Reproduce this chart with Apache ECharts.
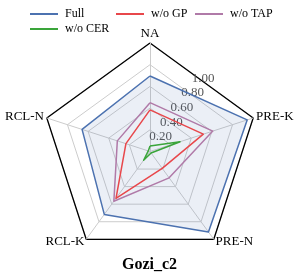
<!DOCTYPE html>
<html><head><meta charset="utf-8">
<script src="https://cdn.jsdelivr.net/npm/echarts@6/dist/echarts.min.js"></script>
<style>html,body{margin:0;padding:0;background:#fff}#c{width:299px;height:277px}</style>
</head><body><div id="c"></div>
<script>
// Indicator order as ECharts lays them out (counter-clockwise from top)
const categories = ['NA', 'RCL-N', 'RCL-K', 'PRE-N', 'PRE-K'];
const seriesNames = ['Full', 'w/o GP', 'w/o TAP', 'w/o CER'];
const fullVals = [0.835, 0.79, 0.86, 1.10, 1.13];
const woGP = [0.46, 0.28, 0.64, 0.23, 0.62];
const woTAP = [0.54, 0.38, 0.68, 0.36, 0.73];
const woCER = [0.06, 0.02, 0.12, 0.02, 0.35];
const tickLabels = ['0.20', '0.40', '0.60', '0.80', '1.00'];
const axisMax = 1.2;

const colors = ['#4c72b0', '#e8474b', '#b07aa8', '#3aa53a'];
const F = 'Liberation Serif';
const chart = echarts.init(document.getElementById('c'), null, {renderer: 'canvas'});
const cx = 150, cy = 151.5, R = 108.5;
const legendText = {fontFamily: F, fontSize: 12, color: '#000', padding: [0, 0, 0, 2]};
const legendBase = {orient: 'vertical', icon: 'rect', itemWidth: 28, itemHeight: 2, itemGap: 3, textStyle: legendText, top: 8, padding: 0};
chart.setOption({
  animation: false,
  color: colors,
  title: {text: 'Gozi_c2', left: 'center', top: 252, textStyle: {fontFamily: F, fontSize: 16, fontWeight: 'bold', color: '#000'}},
  legend: [
    Object.assign({left: 30, data: ['Full', 'w/o CER']}, legendBase),
    Object.assign({left: 116, data: ['w/o GP']}, legendBase),
    Object.assign({left: 195, data: ['w/o TAP']}, legendBase)
  ],
  radar: [{
    center: [cx, cy], radius: R, startAngle: 90, splitNumber: 5, shape: 'polygon',
    indicator: categories.map(n => ({name: n, min: 0, max: axisMax})),
    axisName: {color: '#000', fontFamily: F, fontSize: 13},
    nameGap: 3,
    axisLine: {lineStyle: {color: '#cccccc', width: 1}},
    splitLine: {show: true, lineStyle: {color: '#cccccc', width: 1}},
    splitArea: {show: false}
  }, {
    center: [cx, cy], radius: R, startAngle: 90, splitNumber: 1, shape: 'polygon',
    indicator: categories.map(n => ({name: '', min: 0, max: axisMax})),
    axisName: {show: false},
    axisLine: {show: false},
    splitLine: {show: true, lineStyle: {color: '#000000', width: 1.3}},
    splitArea: {show: false}
  }],
  polar: {center: [cx, cy], radius: R},
  angleAxis: {show: false, startAngle: 54, min: 0, max: 360},
  radiusAxis: {
    min: 0, max: axisMax, interval: 0.2,
    axisLine: {show: false}, axisTick: {show: false}, splitLine: {show: false},
    axisLabel: {
      margin: 0, align: 'center', verticalAlign: 'middle', rotate: 0, padding: [0, 0, 6, 0],
      fontFamily: F, fontSize: 13, color: '#555',
      formatter: v => { const s = v.toFixed(2); return tickLabels.includes(s) ? s : ''; }
    }
  },
  series: [
    {type: 'radar', radarIndex: 0, symbol: 'none', data: [
      {name: 'Full', value: fullVals, lineStyle: {color: colors[0], width: 1.5}, itemStyle: {color: colors[0]}, areaStyle: {color: 'rgba(76,114,176,0.16)'}},
      {name: 'w/o GP', value: woGP, lineStyle: {color: colors[1], width: 1.5}, itemStyle: {color: colors[1]}},
      {name: 'w/o TAP', value: woTAP, lineStyle: {color: colors[2], width: 1.5}, itemStyle: {color: colors[2]}},
      {name: 'w/o CER', value: woCER, lineStyle: {color: colors[3], width: 1.5}, itemStyle: {color: colors[3]}}
    ]},
    {type: 'scatter', coordinateSystem: 'polar', data: [], silent: true}
  ]
});
</script></body></html>
